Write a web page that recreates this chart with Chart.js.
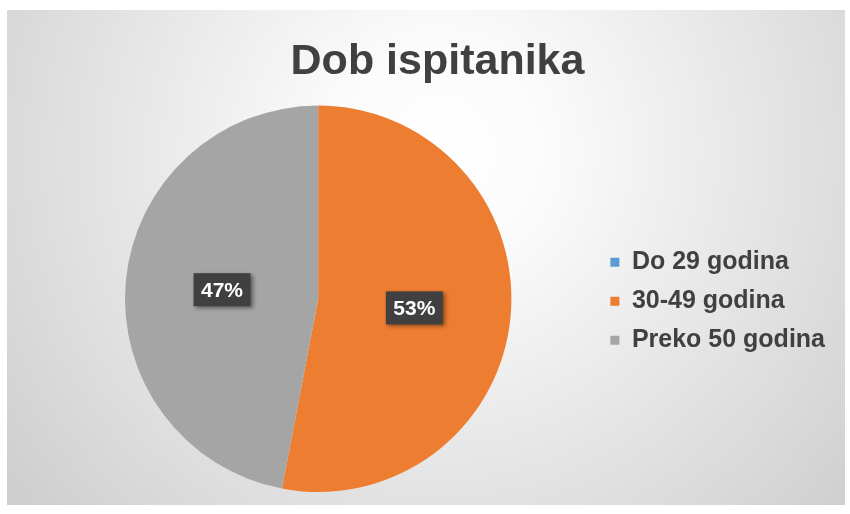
<!DOCTYPE html>
<html>
<head>
<meta charset="utf-8">
<script src="https://cdn.jsdelivr.net/npm/chart.js@4"></script>
<style>
  body { margin: 0; background: #fff; }
  #wrap { width: 850px; height: 514px; }
</style>
</head>
<body>
<div id="wrap"><canvas id="myChart" width="850" height="514"></canvas></div>
<script>
const labels = ["Do 29 godina", "30-49 godina", "Preko 50 godina"];
const values = [0, 53, 47];
const colors = ["#5b9bd5", "#ed7d31", "#a5a5a5"];

const ctx = document.getElementById("myChart").getContext("2d");

// grey radial background like the original sheet
const bgPlugin = {
    id: "bg",
    beforeDraw(chart) {
        const c = chart.ctx;
        const g = c.createRadialGradient(440, 150, 0, 440, 150, 540);
        g.addColorStop(0, "#ffffff");
        g.addColorStop(0.2, "#fbfbfb");
        g.addColorStop(1, "#cfcfcf");
        c.save();
        c.fillStyle = g;
        c.fillRect(7, 10, 838, 495);
        c.restore();
    }
};

// dark boxes with the percent values
const valueBoxes = {
    id: "valueBoxes",
    afterDatasetsDraw(chart) {
        const c = chart.ctx;
        const total = values.reduce((a, b) => a + b, 0);
        const meta = chart.getDatasetMeta(0);
        c.save();
        c.font = "bold 21px 'Liberation Sans', Arial";
        c.textAlign = "center";
        c.textBaseline = "middle";
        meta.data.forEach((arc, i) => {
            if (!values[i]) return;
            const p = arc.tooltipPosition();
            const txt = Math.round(values[i] / total * 100) + "%";
            const w = 57, h = 33;
            c.shadowColor = "rgba(0,0,0,0.45)";
            c.shadowBlur = 4;
            c.shadowOffsetX = 2;
            c.shadowOffsetY = 2;
            c.fillStyle = "#404040";
            c.fillRect(p.x - w / 2, p.y - h / 2, w, h);
            c.shadowColor = "transparent";
            c.fillStyle = "#ffffff";
            c.fillText(txt, p.x, p.y + 1);
        });
        c.restore();
    }
};

new Chart(ctx, {
    type: "pie",
    data: {
        labels: labels,
        datasets: [{
            data: values,
            backgroundColor: colors,
            borderWidth: 0
        }]
    },
    options: {
        responsive: false,
        animation: false,
        layout: { padding: { left: 40, right: 15, top: 10, bottom: 22 } },
        plugins: {
            title: {
                display: true,
                text: "Dob ispitanika",
                color: "#404040",
                font: { size: 43, weight: "bold", family: "'Liberation Sans', Arial" },
                padding: { top: 26, bottom: 18 }
            },
            legend: {
                position: "right",
                // empty title only pushes the items down to the pie's middle
                title: { display: true, text: " ", font: { size: 12 }, padding: { top: 86, bottom: 0 } },
                labels: {
                    color: "#404040",
                    boxWidth: 9,
                    boxHeight: 9,
                    padding: 14,
                    font: { size: 25, weight: "bold", family: "'Liberation Sans', Arial" }
                }
            },
            tooltip: { enabled: false }
        }
    },
    plugins: [bgPlugin, valueBoxes]
});
</script>
</body>
</html>
